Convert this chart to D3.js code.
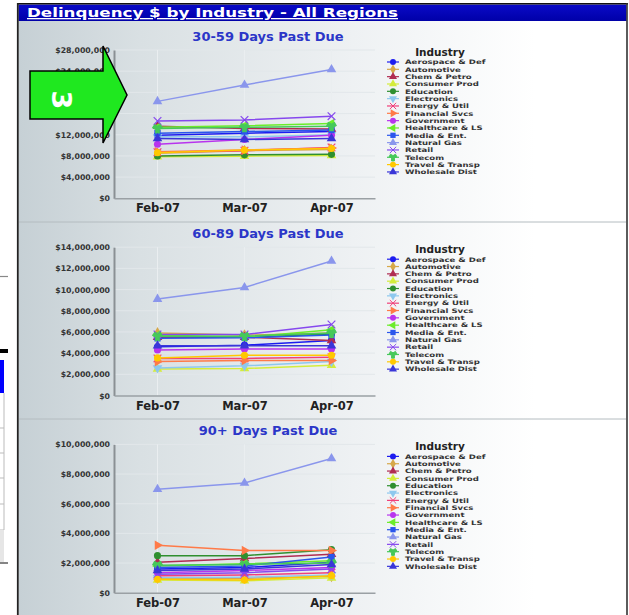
<!DOCTYPE html>
<html><head><meta charset="utf-8">
<script src="https://cdn.jsdelivr.net/npm/d3@7"></script>
<style>html,body{margin:0;padding:0;background:#fff;}svg{display:block;}</style>
</head><body>
<svg id="c" width="629" height="615"></svg>
<script>
const mainTitle = "Delinquency $ by Industry - All Regions";
const categories = ["Feb-07", "Mar-07", "Apr-07"];
const industries = ["Aerospace & Def","Automotive","Chem & Petro","Consumer Prod","Education","Electronics",
  "Energy & Util","Financial Svcs","Government","Healthcare & LS","Media & Ent.","Natural Gas",
  "Retail","Telecom","Travel & Transp","Wholesale Dist"];
// values in $ millions, one row per industry (Feb, Mar, Apr)
const pastDue30to59 = [
  [11.9,12.3,12.6],[8.5,9.0,9.2],[13.6,13.2,13.1],[7.85,7.95,8.1],[8.0,8.2,8.3],[11.6,11.6,12.0],
  [8.7,9.0,9.6],[8.8,9.1,9.5],[10.2,11.1,11.9],[13.4,13.7,14.1],[12.3,12.6,12.9],[18.3,21.4,24.3],
  [14.6,14.8,15.5],[13.2,13.4,13.6],[8.6,9.1,9.4],[11.3,11.1,11.3]];
const pastDue60to89 = [
  [4.6,4.75,5.2],[5.9,5.7,5.9],[5.5,5.5,5.2],[2.5,2.55,2.85],[5.6,5.5,5.8],[2.6,2.8,3.2],
  [3.5,3.5,3.6],[3.2,3.3,3.3],[4.3,4.4,4.4],[5.7,5.5,6.2],[5.4,5.45,5.7],[9.1,10.2,12.7],
  [5.76,5.76,6.7],[5.6,5.6,5.9],[3.55,3.8,3.8],[4.7,4.7,4.7]];
const pastDue90plus = [
  [1.6,1.7,2.05],[0.98,0.98,1.1],[2.05,2.3,2.6],[0.85,0.8,1.0],[2.5,2.5,2.9],[1.0,1.05,1.2],
  [1.15,1.2,1.35],[3.2,2.85,2.85],[1.35,1.5,1.7],[1.8,1.95,2.15],[1.7,1.8,2.4],[6.98,7.4,9.05],
  [1.25,1.35,1.6],[1.85,1.9,2.0],[0.9,0.85,1.15],[1.5,1.6,1.9]];
const ticks30to59 = [0,4,8,12,16,20,24,28];
const ticks60to89 = [0,2,4,6,8,10,12,14];
const ticks90plus = [0,2,4,6,8,10];
const panelTitles = ["30-59 Days Past Due","60-89 Days Past Due","90+ Days Past Due"];

const colors = ["#1c1cf0","#d6a84a","#b02c52","#d4ec3c","#2f8f2f","#8ec8ee","#f0407a","#ff7a48",
  "#b834ee","#6cec2a","#2a56ec","#8a96ec","#8648ee","#46c85a","#ffc800","#3a36d8"];
const shapes = ["circle","diamond","triangle","triangle","circle","tridown","times","triright",
  "circle","trileft","square","triangle","times","wye","circle","triangle"];

const svg = d3.select("#c");
const defs = svg.append("defs");
const g1 = defs.append("linearGradient").attr("id","bg").attr("x1","0").attr("x2","1").attr("y1","0").attr("y2","0");
g1.append("stop").attr("offset","0").attr("stop-color","#c6d0d5");
g1.append("stop").attr("offset","0.2").attr("stop-color","#d9e0e3");
g1.append("stop").attr("offset","0.55").attr("stop-color","#eef1f3");
g1.append("stop").attr("offset","0.85").attr("stop-color","#ffffff");
const g2 = defs.append("linearGradient").attr("id","tb").attr("x1","0").attr("x2","0").attr("y1","0").attr("y2","1");
g2.append("stop").attr("offset","0").attr("stop-color","#0a0ac8");
g2.append("stop").attr("offset","1").attr("stop-color","#0000a8");

// left fragment of another window
svg.append("line").attr("x1",0).attr("x2",8).attr("y1",276.5).attr("y2",276.5).attr("stroke","#888").attr("stroke-width",1.2);
svg.append("rect").attr("x",0).attr("y",349).attr("width",8).attr("height",4).attr("fill","#000");
svg.append("rect").attr("x",0).attr("y",360).attr("width",4).attr("height",33).attr("fill","#0000ff");
[428,453,478,504,530].forEach(y=>svg.append("line").attr("x1",0).attr("x2",4).attr("y1",y).attr("y2",y).attr("stroke","#bbb"));
svg.append("line").attr("x1",4).attr("x2",4).attr("y1",393).attr("y2",530).attr("stroke","#bbb");
svg.append("rect").attr("x",0).attr("y",530).attr("width",4).attr("height",32).attr("fill","#e6e6e6");
svg.append("line").attr("x1",0).attr("x2",8).attr("y1",563).attr("y2",563).attr("stroke","#333").attr("stroke-width",1.2);

// frame
svg.append("rect").attr("x",18.5).attr("y",21).attr("width",608).attr("height",594).attr("fill","url(#bg)");
svg.append("rect").attr("x",18.5).attr("y",4.5).attr("width",608).attr("height",16.5).attr("fill","url(#tb)");
svg.append("line").attr("x1",17.5).attr("x2",628).attr("y1",3.8).attr("y2",3.8).attr("stroke","#111").attr("stroke-width",1.6);
svg.append("line").attr("x1",17.8).attr("x2",17.8).attr("y1",3).attr("y2",615).attr("stroke","#222").attr("stroke-width",1.8);
svg.append("line").attr("x1",627).attr("x2",627).attr("y1",3).attr("y2",615).attr("stroke","#333").attr("stroke-width",1.6);
svg.append("text").attr("x",27).attr("y",17).text(mainTitle)
  .attr("fill","#fff").attr("font-family","DejaVu Sans, Verdana, sans-serif").attr("font-weight","bold")
  .attr("font-size",13).attr("text-decoration","underline").attr("textLength",371).attr("lengthAdjust","spacingAndGlyphs");
[222,419].forEach(y=>svg.append("line").attr("x1",19).attr("x2",626).attr("y1",y).attr("y2",y).attr("stroke","#b4bcc0").attr("stroke-width",1));

function symbolPath(shape, size){
  const map = {circle:d3.symbolCircle, diamond:d3.symbolDiamond, triangle:d3.symbolTriangle, tridown:d3.symbolTriangle,
    triright:d3.symbolTriangle, trileft:d3.symbolTriangle, times:d3.symbolTimes, square:d3.symbolSquare, wye:d3.symbolWye};
  return d3.symbol().type(map[shape]).size(size)();
}
function symbolRot(shape){ return shape==="tridown"?180:shape==="triright"?90:shape==="trileft"?-90:0; }

const x = d3.scalePoint().domain(categories).range([114,375]).padding(0.5);
const fmt = v => "$" + d3.format(",")(v*1e6);
const panels = [[pastDue30to59,ticks30to59],[pastDue60to89,ticks60to89],[pastDue90plus,ticks90plus]];

panels.forEach(([data,ticks],p)=>{
  const off = p*197.2;
  const top = 50+off, bottom = 198.3+off;
  const y = d3.scaleLinear().domain([0, d3.max(ticks)]).range([bottom, top]);
  const g = svg.append("g");
  g.append("text").attr("x",268).attr("y",40.5+off).attr("text-anchor","middle").text(panelTitles[p])
    .attr("fill","#2b36c8").attr("font-family","DejaVu Sans, Verdana, sans-serif").attr("font-weight","bold").attr("font-size",13);
  // grid
  g.selectAll(".gl").data(ticks.slice(1)).join("line").attr("x1",115).attr("x2",375)
    .attr("y1",d=>y(d)).attr("y2",d=>y(d)).attr("stroke","#e2e7ea").attr("stroke-width",1);
  categories.forEach(c=>g.append("line").attr("x1",x(c)).attr("x2",x(c)).attr("y1",top).attr("y2",bottom).attr("stroke","#eaeef0"));
  // axes
  const ya = d3.axisLeft(y).tickValues(ticks).tickFormat(fmt).tickSize(0).tickPadding(4);
  const yg = g.append("g").attr("transform","translate(114,0)").call(ya);
  yg.select(".domain").attr("stroke","#8a9094").attr("stroke-width",2);
  yg.selectAll("text").attr("fill","#333").attr("font-family","DejaVu Sans, Verdana, sans-serif").attr("font-weight","bold").attr("font-size",7.8);
  const xa = d3.axisBottom(x).tickSize(0).tickPadding(6);
  const xg = g.append("g").attr("transform",`translate(0,${bottom})`).call(xa);
  xg.select(".domain").attr("stroke","#9aa0a4").attr("stroke-width",1.5);
  xg.selectAll("text").attr("fill","#222").attr("font-family","DejaVu Sans, Verdana, sans-serif").attr("font-weight","bold").attr("font-size",11.5);
  // lines
  const line = d3.line().x((d,i)=>x(categories[i])).y(d=>y(d));
  data.forEach((row,k)=>{
    g.append("path").attr("d",line(row)).attr("fill","none").attr("stroke",colors[k]).attr("stroke-width",1.5);
    row.forEach((v,i)=>{
      g.append("path").attr("d",symbolPath(shapes[k],40))
        .attr("transform",`translate(${x(categories[i])},${y(v)}) rotate(${symbolRot(shapes[k])})`)
        .attr("fill",colors[k]).attr("stroke",shapes[k]==="times"||shapes[k]==="wye"?colors[k]:"none").attr("stroke-width",1.2);
    });
  });
  // legend
  const lg = g.append("g");
  lg.append("text").attr("x",440).attr("y",55.5+off).attr("text-anchor","middle").text("Industry")
    .attr("fill","#222").attr("font-family","DejaVu Sans, Verdana, sans-serif").attr("font-weight","bold").attr("font-size",10.5);
  industries.forEach((name,k)=>{
    const yy = 62+off+k*7.33;
    lg.append("line").attr("x1",387).attr("x2",399).attr("y1",yy).attr("y2",yy).attr("stroke",colors[k]).attr("stroke-width",1.2);
    lg.append("path").attr("d",symbolPath(shapes[k],28))
      .attr("transform",`translate(393,${yy}) rotate(${symbolRot(shapes[k])})`)
      .attr("fill",colors[k]).attr("stroke",shapes[k]==="times"||shapes[k]==="wye"?colors[k]:"none");
    lg.append("text").attr("x",0).attr("y",0).attr("transform",`translate(405,${yy+2.3}) scale(1.38,1)`).text(name).attr("fill","#333")
      .attr("font-family","DejaVu Sans, Verdana, sans-serif").attr("font-weight","bold").attr("font-size",6.2);
  });
});

// green arrow annotation
const arrow = [[30,71],[103,71],[103,46],[127,95],[103,143],[103,119],[30,119]];
svg.append("path").attr("d", d3.line()(arrow)+"Z").attr("fill","#1fe81f").attr("stroke","#000").attr("stroke-width",1.5);
svg.append("text").attr("transform","translate(62,100) rotate(90)").attr("text-anchor","middle").attr("dy","0.36em")
  .text("3").attr("fill","#fff").attr("font-family","DejaVu Sans, sans-serif").attr("font-weight","bold").attr("font-size",27);
</script>
</body></html>
